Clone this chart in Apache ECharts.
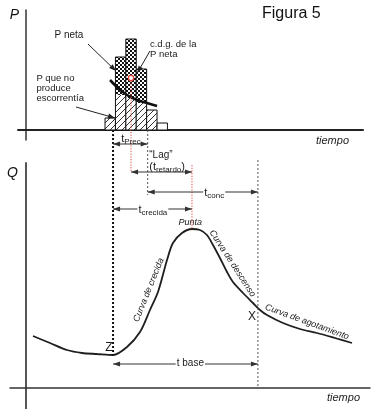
<!DOCTYPE html>
<html><head><meta charset="utf-8">
<script src="https://cdn.jsdelivr.net/npm/echarts@6/dist/echarts.min.js"></script>
<style>html,body{margin:0;padding:0;background:#fff}#c{width:377px;height:409px}</style>
</head><body><div id="c"></div>
<script>
// ---------------- DATA ----------------
// Hyetograph (top panel): time of left edge of each rain block, block heights
const rainStart = [7.6, 8.6, 9.6, 10.6, 11.6, 12.6];
const rainTotal = [1.2, 7.3, 9.1, 6.1, 2.0, 0.7];
const rainLoss  = [1.2, 3.5, 3.2, 2.7, 2.0, 0];   // P que no produce escorrentía
const rainNet   = [0, 3.8, 5.9, 3.4, 0, 0];       // P neta
const rainWidth = 1;
// Loss (infiltration) curve drawn across the blocks
const lossCurve = [[8.08, 5.0], [8.75, 4.3], [9.71, 3.5], [10.67, 3.0], [11.63, 2.7], [12.6, 2.4]];
// Centre of gravity of net rain
const netCentroid = [10.1, 5.2];
// Hydrograph (bottom panel): [time, Q]
const hydrograph = [
  [0.67, 5.2], [2.31, 4.5], [3.94, 3.8], [5.38, 3.5], [6.83, 3.4], [8.37, 3.3],
  [9.71, 4.1], [10.96, 5.6], [11.92, 7.8], [12.69, 9.6], [13.56, 12.8], [14.13, 14.5],
  [15.0, 15.5], [15.96, 15.9], [16.73, 15.8], [17.4, 15.3], [17.98, 14.3], [18.65, 13.0],
  [19.33, 11.6], [19.9, 10.6], [20.87, 9.5], [21.83, 8.5], [22.5, 7.8], [23.17, 7.3],
  [24.71, 6.5], [26.35, 5.9], [27.98, 5.5], [29.7, 5.0], [31.35, 4.5]
];
// Characteristic times
const tStart = 8.37;            // Z : start of direct runoff
const tPrecEnd = 11.7;          // end of net rain
const tCentroid = netCentroid[0];
const tPeak = 15.96;            // Punta
const tEnd = 22.3;              // X : end of direct runoff
const qPeak = 15.9;
const qStart = 3.3;

// ---------------- STYLE / LAYOUT ----------------
const FONT = '"Liberation Sans", Arial, sans-serif';
const INK = '#1a1a1a';
const RED = '#e2453c';
const GREY = '#555';

function makeHatch() {
  const n = 6, c = document.createElement('canvas'); c.width = c.height = n;
  const g = c.getContext('2d'); g.fillStyle = '#fff'; g.fillRect(0, 0, n, n);
  g.strokeStyle = '#333'; g.lineWidth = 1; g.beginPath();
  g.moveTo(0, n); g.lineTo(n, 0); g.moveTo(-1, 1); g.lineTo(1, -1); g.moveTo(n - 1, n + 1); g.lineTo(n + 1, n - 1);
  g.stroke(); return c;
}
function makeChecker() {
  const c = document.createElement('canvas'); c.width = c.height = 4;
  const g = c.getContext('2d'); g.fillStyle = '#fff'; g.fillRect(0, 0, 4, 4);
  g.fillStyle = '#111'; g.fillRect(0, 0, 2, 2); g.fillRect(2, 2, 2, 2); return c;
}
const hatch = makeHatch(), checker = makeChecker();

function headAt(tip, from, len, hw, color) {
  const dx = tip[0] - from[0], dy = tip[1] - from[1], L = Math.hypot(dx, dy) || 1;
  const ux = dx / L, uy = dy / L;
  const bx = tip[0] - ux * len, by = tip[1] - uy * len;
  return { type: 'polygon', shape: { points: [tip, [bx - uy * hw, by + ux * hw], [bx + uy * hw, by - ux * hw]] }, style: { fill: color } };
}
function arrow1(a, b, color) { // single head at b
  return [
    { type: 'line', shape: { x1: a[0], y1: a[1], x2: b[0], y2: b[1] }, style: { stroke: color, lineWidth: 1 } },
    headAt(b, a, 7, 2.6, color)
  ];
}
function arrow2(a, b, color) {
  return [
    { type: 'line', shape: { x1: a[0], y1: a[1], x2: b[0], y2: b[1] }, style: { stroke: color, lineWidth: 1 } },
    headAt(a, b, 7, 2.6, color), headAt(b, a, 7, 2.6, color)
  ];
}
function vline(a, b, color, w, dash) {
  return { type: 'line', shape: { x1: a[0], y1: a[1], x2: b[0], y2: b[1] }, style: { stroke: color, lineWidth: w, lineDash: dash } };
}
function txt(p, text, size, opts) {
  opts = opts || {};
  return {
    type: 'text', x: p[0], y: p[1], rotation: opts.rot || 0,
    style: Object.assign({
      text: text, fontSize: size, fontFamily: FONT, fontStyle: opts.italic ? 'italic' : 'normal',
      fill: opts.color || INK, align: opts.align || 'center', verticalAlign: opts.va || 'middle',
      textAlign: opts.align || 'center', textVerticalAlign: opts.va || 'middle'
    }, opts.extra || {})
  };
}
const subRich = {
  t: { fontSize: 11, fontFamily: FONT, fill: INK, color: INK, lineHeight: 14, verticalAlign: 'middle' },
  s: { fontSize: 8, fontFamily: FONT, fill: INK, color: INK, lineHeight: 14, verticalAlign: 'bottom', padding: [0, 0, 0, 0] }
};
function subTxt(p, main, sub, opts) {
  opts = opts || {};
  const pre = opts.pre || '', post = opts.post || '';
  return {
    type: 'text', x: p[0], y: p[1],
    style: Object.assign({
      text: (pre ? '{t|' + pre + '}' : '') + '{t|' + main + '}{s|' + sub + '}' + (post ? '{t|' + post + '}' : ''),
      rich: subRich, align: opts.align || 'center', verticalAlign: 'middle',
      textAlign: opts.align || 'center', textVerticalAlign: 'middle'
    }, opts.bg ? { backgroundColor: '#fff', padding: [0, 1, 0, 1] } : {})
  };
}

const rainRows = rainStart.map((s, i) => [s, rainTotal[i], rainLoss[i], rainNet[i]]);

const chart = echarts.init(document.getElementById('c'), null, { renderer: 'canvas' });
chart.setOption({
  animation: false,
  title: { text: 'Figura 5', left: 262, top: 6, padding: 0,
    textStyle: { fontSize: 16, fontWeight: 'normal', fontFamily: FONT, color: '#111' } },
  grid: [
    { left: 18, right: 14, top: 10, bottom: 269 },
    { left: 10, right: 7, top: 163, bottom: 0 }
  ],
  xAxis: [
    { gridIndex: 0, type: 'value', min: -0.769, max: 32.404,
      name: 'tiempo', nameLocation: 'end', nameGap: -14,
      nameTextStyle: { fontStyle: 'italic', fontSize: 11, fontFamily: FONT, color: '#222', align: 'right', verticalAlign: 'top', padding: [5, 0, 0, 0] },
      axisLine: { show: true, onZero: true, lineStyle: { color: '#222', width: 2 } },
      axisTick: { show: false }, axisLabel: { show: false }, splitLine: { show: false } },
    { gridIndex: 1, type: 'value', min: -1.538, max: 33.077,
      name: 'tiempo', nameLocation: 'end', nameGap: -10,
      nameTextStyle: { fontStyle: 'italic', fontSize: 11, fontFamily: FONT, color: '#222', align: 'right', verticalAlign: 'top', padding: [4, 0, 0, 0] },
      axisLine: { show: true, onZero: true, lineStyle: { color: '#333', width: 1.5 } },
      axisTick: { show: false }, axisLabel: { show: false }, splitLine: { show: false } }
  ],
  yAxis: [
    { gridIndex: 0, type: 'value', min: -1, max: 12,
      name: 'P', nameLocation: 'end', nameGap: -5,
      nameTextStyle: { fontStyle: 'italic', fontSize: 14, fontFamily: FONT, color: '#111', align: 'right', verticalAlign: 'middle', padding: [0, 7, 0, 0] },
      axisLine: { show: true, onZero: true, lineStyle: { color: '#333', width: 1.5 } },
      axisTick: { show: false }, axisLabel: { show: false }, splitLine: { show: false } },
    { gridIndex: 1, type: 'value', min: -2.1, max: 22.5,
      name: 'Q', nameLocation: 'end', nameGap: -10,
      nameTextStyle: { fontStyle: 'italic', fontSize: 14, fontFamily: FONT, color: '#111', align: 'right', verticalAlign: 'middle', padding: [0, 8, 0, 0] },
      axisLine: { show: true, onZero: true, lineStyle: { color: '#555', width: 2 } },
      axisTick: { show: false }, axisLabel: { show: false }, splitLine: { show: false } }
  ],
  series: [
    { // rain blocks
      type: 'custom', xAxisIndex: 0, yAxisIndex: 0, data: rainRows, clip: false, z: 2,
      encode: { x: 0, y: 1 },
      renderItem: function (params, api) {
        const s = api.value(0), tot = api.value(1), loss = api.value(2), net = api.value(3);
        const b0 = api.coord([s, 0]), b1 = api.coord([s + rainWidth, tot]);
        const l1 = api.coord([s + rainWidth, loss]), n1 = api.coord([s + rainWidth, loss + net]);
        const x = b0[0], w = b1[0] - b0[0];
        const ch = [{ type: 'rect', shape: { x: x, y: b1[1], width: w, height: b0[1] - b1[1] }, style: { fill: '#fff' } }];
        if (loss > 0) ch.push({ type: 'rect', shape: { x: x, y: l1[1], width: w, height: b0[1] - l1[1] }, style: { fill: { image: hatch, repeat: 'repeat' } } });
        if (net > 0) ch.push({ type: 'rect', shape: { x: x, y: n1[1], width: w, height: l1[1] - n1[1] }, style: { fill: { image: checker, repeat: 'repeat' } } });
        ch.push({ type: 'rect', shape: { x: x, y: b1[1], width: w, height: b0[1] - b1[1] }, style: { fill: 'none', stroke: '#111', lineWidth: 1 } });
        return { type: 'group', children: ch };
      }
    },
    { // loss curve
      type: 'line', xAxisIndex: 0, yAxisIndex: 0, data: lossCurve, smooth: 0.4, symbol: 'none', z: 4,
      lineStyle: { color: '#111', width: 2.6 }
    },
    { // top annotations
      type: 'custom', xAxisIndex: 0, yAxisIndex: 0, data: [[0, 0]], clip: false, z: 5,
      renderItem: function (params, api) {
        const c = (t, p) => api.coord([t, p]);
        const ch = [];
        ch.push(vline(c(tCentroid, netCentroid[1]), c(tCentroid, -4.2), RED, 1, [1.2, 1.5]));
        ch.push({ type: 'circle', shape: { cx: c(netCentroid[0], netCentroid[1])[0], cy: c(netCentroid[0], netCentroid[1])[1], r: 2.6 },
          style: { fill: '#fff', stroke: RED, lineWidth: 1.3 } });
        ch.push(txt(c(4.13, 9.5), 'P neta', 10));
        ch.push(...arrow1(c(5.96, 8.6), c(8.65, 5.9), '#222'));
        ch.push(txt(c(11.92, 8.55), 'c.d.g. de la', 9.5, { align: 'left' }));
        ch.push(txt(c(11.92, 7.55), 'P neta', 9.5, { align: 'left' }));
        ch.push(...arrow1(c(11.92, 7.9), c(10.7, 5.7), '#222'));
        ch.push(txt(c(1.0, 5.2), 'P que no', 9.5, { align: 'left' }));
        ch.push(txt(c(1.0, 4.2), 'produce', 9.5, { align: 'left' }));
        ch.push(txt(c(1.0, 3.2), 'escorrentía', 9.5, { align: 'left' }));
        ch.push(...arrow1(c(4.81, 2.3), c(8.56, 1.2), '#222'));
        return { type: 'group', children: ch };
      }
    },
    { // hydrograph
      type: 'line', xAxisIndex: 1, yAxisIndex: 1, data: hydrograph, smooth: 0.3, symbol: 'none', z: 3,
      lineStyle: { color: '#1e1e1e', width: 1.8 }
    },
    { // bottom annotations (times, arrows, labels)
      type: 'custom', xAxisIndex: 1, yAxisIndex: 1, data: [[0, 0]], clip: false, z: 5,
      renderItem: function (params, api) {
        const c = (t, q) => api.coord([t, q]);
        const ch = [];
        ch.push(vline(c(tStart, 25.8), c(tStart, qStart), '#111', 2, [2, 2]));
        ch.push(vline(c(tPrecEnd, 25.8), c(tPrecEnd, 19.3), GREY, 1, [2, 2]));
        ch.push(vline(c(tPeak, 22.3), c(tPeak, qPeak), RED, 1, [1.2, 1.5]));
        ch.push(vline(c(tEnd, 22.8), c(tEnd, 0), GREY, 1, [2, 2]));
        ch.push(...arrow2(c(tStart, 24.4), c(tPrecEnd, 24.4), '#333'));
        ch.push(...arrow2(c(tCentroid, 21.6), c(tPeak, 21.6), '#333'));
        ch.push(...arrow2(c(tPrecEnd, 19.6), c(tEnd, 19.6), '#333'));
        ch.push(...arrow2(c(tStart, 17.9), c(tPeak, 17.9), '#333'));
        ch.push(...arrow2(c(tStart, 2.4), c(tEnd, 2.4), '#333'));
        ch.push(subTxt(c(10.1, 24.9), 't', 'Prec'));
        ch.push(txt(c(11.85, 23.3), '\u201cLag\u201d', 10, { align: 'left' }));
        ch.push(subTxt(c(11.85, 22.15), 't', 'retardo', { pre: '(', post: ')', align: 'left' }));
        ch.push(subTxt(c(18.1, 19.5), 't', 'conc', { bg: true }));
        ch.push(subTxt(c(12.2, 17.8), 't', 'crecida', { bg: true }));
        ch.push(txt(c(15.8, 2.5), 't base', 10, { extra: { backgroundColor: '#fff', padding: [0, 1, 0, 1] } }));
        ch.push(txt(c(15.8, 16.6), 'Punta', 9, { italic: true }));
        ch.push(txt(c(7.98, 4.0), 'Z', 12));
        ch.push(txt(c(21.73, 7.1), 'X', 12));
        ch.push(txt(c(11.8, 9.8), 'Curva de crecida', 9, { italic: true, rot: 68 * Math.PI / 180 }));
        ch.push(txt(c(19.85, 12.45), 'Curva de descenso', 9, { italic: true, rot: -57 * Math.PI / 180 }));
        ch.push(txt(c(27.02, 6.6), 'Curva de agotamiento', 9, { italic: true, rot: -20 * Math.PI / 180 }));
        return { type: 'group', children: ch };
      }
    }
  ]
});
</script></body></html>
